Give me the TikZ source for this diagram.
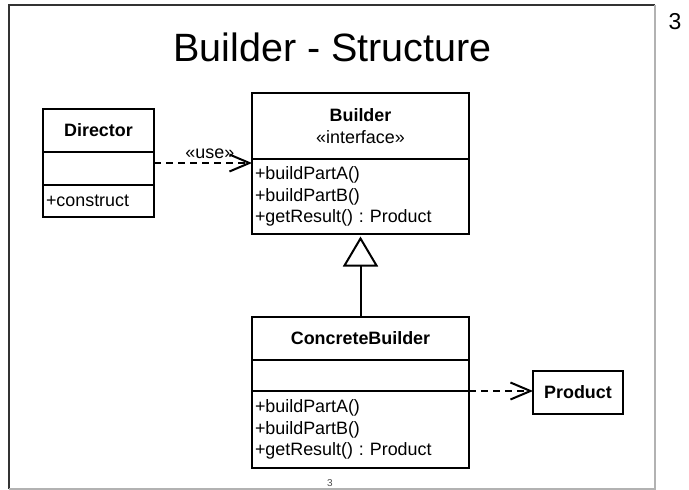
\documentclass[tikz,border=0pt]{standalone}
\usepackage{fontspec}
\setmainfont{Liberation Sans}
\frenchspacing
\usetikzlibrary{arrows.meta}
\begin{document}
\begin{tikzpicture}[x=1pt,y=-1pt,
  umlfont/.style={font=\fontsize{17.9}{21.3}\selectfont},
  cls/.style={draw=black, line width=1.2pt, inner xsep=3pt, inner ysep=0pt,
              outer sep=0pt, anchor=north west, umlfont},
  wide/.style={minimum width=217pt, text width=211pt},
  narrow/.style={minimum width=111pt, text width=105pt},
  dep/.style={draw=black, line width=2pt, dash pattern=on 7pt off 5pt,
              -{Straight Barb[length=20pt, width=17pt]}},
  gen/.style={draw=black, line width=2pt,
              -{Triangle[open, length=30pt, width=35pt, fill=white]}}
]
\useasboundingbox (0,0) rectangle (689,490);

% slide frame
\draw[black!80, line width=1.5pt] (9,489) -- (9,5) -- (655,5);
\draw[gray!60, line width=1.2pt] (655,5) -- (655,489) -- (9,489);

% slide numbers and title
\node[font=\fontsize{23}{23}\selectfont, anchor=base, inner sep=0pt] (pgnum) at (675,29) {3};
\node[font=\fontsize{10}{10}\selectfont, text=black!70] (footnum) at (330,483) {3};
\node[font=\fontsize{39.5}{40}\selectfont, anchor=base] (title) at (332.5,61) {Builder - Structure};

% Director
\node[cls, narrow, minimum height=43pt, align=center, font=\fontsize{17.9}{21.3}\selectfont\bfseries]
  (dirN) at (43,109) {Director};
\node[cls, narrow, minimum height=33pt] (dirA) at (dirN.south west) {};
\node[cls, narrow, minimum height=32pt, align=left] (dirO) at (dirA.south west) {+construct};

% Builder interface
\node[cls, wide, minimum height=66pt, align=center]
  (bldN) at (252,93) {\textbf{Builder}\\[0.5pt]«interface»};
\node[cls, wide, minimum height=75pt, align=left]
  (bldO) at (bldN.south west) {+buildPartA()\\+buildPartB()\\+getResult() : Product};

% ConcreteBuilder
\node[cls, wide, minimum height=43pt, align=center, font=\fontsize{17.9}{21.3}\selectfont\bfseries]
  (cbN) at (252,317) {ConcreteBuilder};
\node[cls, wide, minimum height=31pt] (cbA) at (cbN.south west) {};
\node[cls, wide, minimum height=77pt, align=left]
  (cbO) at (cbA.south west) {+buildPartA()\\+buildPartB()\\+getResult() : Product};

% Product
\node[cls, minimum width=90pt, minimum height=43pt, align=center,
      font=\fontsize{17.9}{21.3}\selectfont\bfseries] (prd) at (533,371) {Product};

% relations
\draw[dep] ([yshift=5.5pt]dirA.east) -- ([yshift=5.5pt]dirA.east -| bldO.west)
  node[pos=0.57, anchor=base, yshift=5pt, umlfont, inner sep=0pt] (uselbl) {«use»};
\draw[gen, shorten >=2.5pt] (cbN.north) -- (bldO.south);
\draw[dep] (cbA.south east) -- (cbA.south east -| prd.west);
\end{tikzpicture}
\end{document}
